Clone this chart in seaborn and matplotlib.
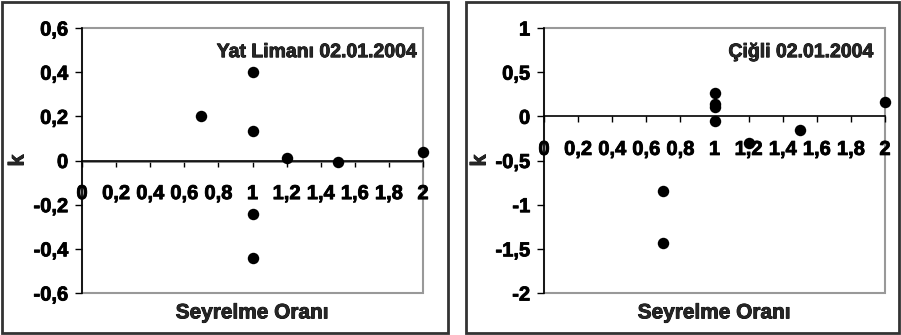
import matplotlib
matplotlib.use('Agg')
import matplotlib.pyplot as plt
import matplotlib.ticker as mticker
import matplotlib.patheffects as pe
from matplotlib.patches import Rectangle
import seaborn as sns
import pandas as pd

# Yat Limani 02.01.2004
yat_x = [0.7, 1, 1, 1.2, 1.5, 2, 1, 1]
yat_k = [0.2, 0.4, 0.132, 0.012, -0.009, 0.038, -0.24, -0.442]

# Cigli 02.01.2004
cigli_x = [1, 1, 1, 1, 1.2, 1.5, 2, 0.7, 0.7]
cigli_k = [0.262, 0.139, 0.105, -0.052, -0.307, -0.15, 0.157, -0.846, -1.434]

x_ticks = [0, 0.2, 0.4, 0.6, 0.8, 1, 1.2, 1.4, 1.6, 1.8, 2]
yat_yticks = [-0.6, -0.4, -0.2, 0, 0.2, 0.4, 0.6]
cigli_yticks = [-2, -1.5, -1, -0.5, 0, 0.5, 1]

sns.set_style('white')
plt.rcParams['font.family'] = ['Liberation Sans', 'DejaVu Sans']
plt.rcParams['font.weight'] = 'bold'

W, H = 901, 335
FS = 14.5
heavy = [pe.withStroke(linewidth=0.6, foreground='black')]

fig = plt.figure(figsize=(W / 100, H / 100), dpi=100)

# outer chart frames
for x0, x1 in [(2, 448), (466, 899)]:
    fig.patches.append(Rectangle((x0 / W, 2 / H), (x1 - x0) / W, 331 / H,
                                 transform=fig.transFigure, fill=False,
                                 edgecolor='#333333', linewidth=2))

comma = mticker.FuncFormatter(lambda v, p: f'{v:g}'.replace('.', ','))


def panel(left, xs, ks, yticks, title, title_x, extra_line=False):
    ax = fig.add_axes([left / W, (H - 293) / H, 341 / W, 265 / H])
    df = pd.DataFrame({'x': xs, 'k': ks})
    sns.scatterplot(data=df, x='x', y='k', ax=ax, color='black', s=68,
                    edgecolor='black', linewidth=0, zorder=5, clip_on=False)
    ax.set_xlim(0, 2)
    ax.set_ylim(min(yticks), max(yticks))
    ax.set_xticks(x_ticks)
    ax.set_yticks(yticks)
    ax.xaxis.set_major_formatter(comma)
    ax.yaxis.set_major_formatter(comma)
    for s in ['top', 'right']:
        ax.spines[s].set_visible(False)
    ax.spines['bottom'].set_position(('data', 0))
    ax.spines['bottom'].set_color('black')
    ax.spines['left'].set_color('black')
    ax.spines['bottom'].set_linewidth(1.2)
    ax.spines['left'].set_linewidth(1.2)
    ax.add_patch(Rectangle((0, 0), 1, 1, transform=ax.transAxes, fill=False,
                           edgecolor='#999999', linewidth=1.5, zorder=0,
                           clip_on=False))
    if extra_line:
        ax.axhline(-0.009, color='#777777', linewidth=1.2, zorder=1)
    ax.tick_params(axis='x', direction='out', length=4, width=1, pad=13,
                   labelsize=FS, colors='black', bottom=True)
    ax.tick_params(axis='y', direction='out', length=5, width=1, pad=5,
                   labelsize=FS, colors='black', left=True)
    for lab in ax.get_xticklabels() + ax.get_yticklabels():
        lab.set_fontweight('bold')
        lab.set_path_effects(heavy)
    ax.set_xlabel('')
    ax.set_ylabel('k', fontsize=FS + 1, fontweight='bold', path_effects=heavy)
    ax.yaxis.set_label_coords(-0.157, 0.5)
    ax.text(0.5, -0.075, 'Seyrelme Oranı', transform=ax.transAxes,
            ha='center', va='center', fontsize=FS + 0.5, fontweight='bold',
            path_effects=heavy)
    ax.text(title_x, 0.907, title, transform=ax.transAxes, ha='right',
            va='center', fontsize=FS - 0.5, fontweight='bold', path_effects=heavy)
    ax.set_facecolor('white')
    return ax


panel(82, yat_x, yat_k, yat_yticks, 'Yat Limanı 02.01.2004', 0.982, extra_line=True)
panel(544, cigli_x, cigli_k, cigli_yticks, 'Çiğli 02.01.2004', 0.965)

fig.savefig('out.png', dpi=100)
